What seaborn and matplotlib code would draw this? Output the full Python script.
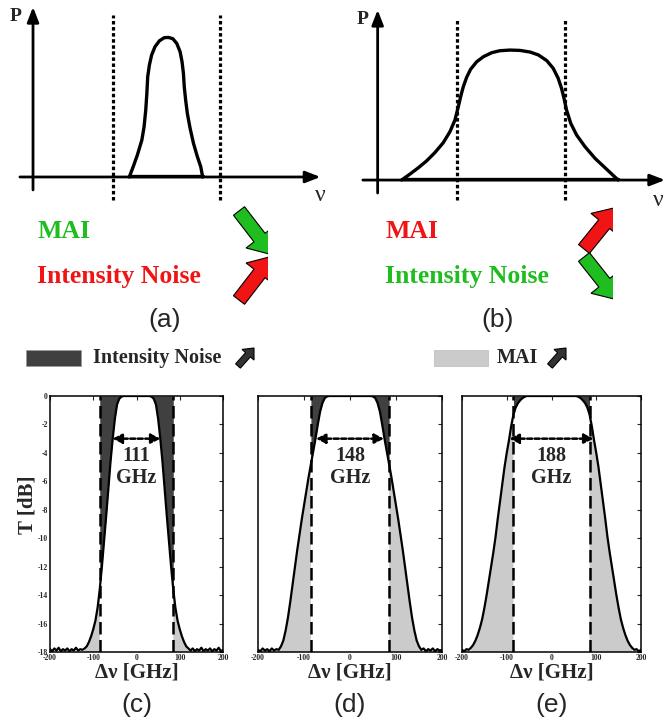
import numpy as np
import matplotlib
matplotlib.use("Agg")
import matplotlib.pyplot as plt
import matplotlib.patches as mpatches
import seaborn as sns
import pandas as pd

# ---------------- data ----------------
# (a) narrow source spectrum, arbitrary units
nu_a = [3.45, 3.60, 3.74, 3.90, 3.98, 4.04, 4.08, 4.11, 4.17, 4.25, 4.37, 4.53, 4.70, 4.85,
        5.01, 5.15, 5.27, 5.34, 5.39, 5.42, 5.47, 5.53, 5.63, 5.75, 5.89, 6.01, 6.08]
p_a = [0.0, 0.068, 0.136, 0.228, 0.31, 0.414, 0.517, 0.619, 0.691, 0.753, 0.804, 0.841, 0.86, 0.862,
       0.854, 0.825, 0.774, 0.712, 0.64, 0.557, 0.475, 0.393, 0.30, 0.208, 0.125, 0.064, 0.0]
window_a = [2.87, 6.70]

# (b) broad source spectrum, arbitrary units
nu_b = [0.86, 1.16, 1.46, 1.76, 2.05, 2.35, 2.59, 2.77, 2.89, 2.99, 3.07, 3.19, 3.33, 3.55, 3.79,
        4.09, 4.38, 4.74, 5.10, 5.46, 5.76, 6.06, 6.29, 6.47, 6.59, 6.68, 6.77, 6.92, 7.13,
        7.43, 7.79, 8.21, 8.62]
p_b = [0.0, 0.037, 0.076, 0.119, 0.169, 0.23, 0.298, 0.37, 0.452, 0.525, 0.576, 0.634, 0.683, 0.73, 0.761,
       0.786, 0.798, 0.802, 0.80, 0.79, 0.772, 0.737, 0.69, 0.628, 0.566, 0.504, 0.432, 0.35, 0.278,
       0.206, 0.134, 0.066, 0.0]
window_b = [2.85, 6.71]

# (c)-(e) filter transmission T [dB] vs detuning [GHz]
detuning = [-200, -195, -190, -185, -180, -175, -170, -165, -160, -155, -150, -145,
            -140, -135, -130, -125, -120, -115, -110, -105, -100, -95, -90, -85,
            -80, -75, -70, -65, -60, -55, -50, -45, -40, -35, -30, -25, -20, -15,
            -10, -5, 0, 5, 10, 15, 20, 25, 30, 35, 40, 45, 50, 55, 60, 65, 70, 75,
            80, 85, 90, 95, 100, 105, 110, 115, 120, 125, 130, 135, 140, 145, 150,
            155, 160, 165, 170, 175, 180, 185, 190, 195, 200]
T_c = [-17.8, -17.95, -17.75, -17.9, -17.7, -17.95, -17.8, -17.9, -17.75, -17.95, -17.8, -17.9,
       -17.7, -17.9, -17.8, -17.85, -17.75, -17.6, -17.3, -16.9, -16.4, -15.8, -14.9, -13.6,
       -12.0, -10.2, -8.4, -6.5, -4.6, -3.0, -1.6, -0.6, -0.2, -0.05, 0, 0, 0, 0,
       0, 0, 0, 0, 0, 0, 0, 0, 0, -0.05, -0.2, -0.6, -1.6, -3.0, -4.6, -6.5, -8.4, -10.2,
       -12.0, -13.6, -14.9, -15.8, -16.4, -16.9, -17.3, -17.6, -17.75, -17.9, -17.75, -17.95, -17.8, -17.9, -17.7,
       -17.95, -17.8, -17.9, -17.75, -17.95, -17.8, -17.9, -17.7, -17.95, -17.85]
T_d = [-17.85, -17.95, -17.75, -17.9, -17.8, -17.95, -17.75, -17.9, -17.8, -17.85, -17.6, -17.2,
       -16.5, -15.6, -14.5, -13.3, -12.1, -10.9, -9.8, -8.7, -7.7, -6.7, -5.7, -4.8,
       -3.9, -3.0, -2.0, -1.1, -0.5, -0.15, -0.03, 0, 0, 0, 0, 0, 0, 0,
       0, 0, 0, 0, 0, 0, 0, 0, 0, 0, 0, 0, -0.03, -0.15, -0.5, -1.1, -2.0, -3.0,
       -3.9, -4.8, -5.7, -6.7, -7.7, -8.7, -9.8, -10.9, -12.1, -13.3, -14.5, -15.6, -16.5, -17.2, -17.6,
       -17.85, -17.75, -17.95, -17.8, -17.9, -17.75, -17.95, -17.8, -17.9, -17.85]
T_e = [-17.85, -17.95, -17.8, -17.85, -17.7, -17.5, -17.2, -16.8, -16.3, -15.7, -14.9, -14.0,
       -13.0, -12.0, -11.0, -9.9, -8.6, -7.4, -6.2, -5.0, -4.0, -3.1, -2.1, -1.3,
       -0.8, -0.5, -0.3, -0.15, -0.05, 0, 0, 0, 0, 0, 0, 0, 0, 0,
       0, 0, 0, 0, 0, 0, 0, 0, 0, 0, 0, 0, 0, 0, -0.05, -0.15, -0.3, -0.5,
       -0.8, -1.3, -2.1, -3.1, -4.0, -5.0, -6.2, -7.4, -8.6, -9.9, -11.0, -12.0, -13.0, -14.0, -14.9,
       -15.7, -16.3, -16.8, -17.2, -17.5, -17.7, -17.85, -17.8, -17.95, -17.85]
bandwidths = [111, 148, 188]          # 3-dB bandwidth [GHz]
window_ghz = [-85, 85]                # receiver window [GHz]
y_ticks = [-18, -16, -14, -12, -10, -8, -6, -4, -2, 0]
x_ticks = [-200, -100, 0, 100, 200]
bottom_labels = ["(c)", "(d)", "(e)"]

# ---------------- style ----------------
sns.set_style("white")
plt.rcParams["font.family"] = ["Liberation Serif", "DejaVu Serif"]
plt.rcParams["axes.unicode_minus"] = False
SERIF = ["Liberation Serif", "DejaVu Serif"]
SANS = ["Liberation Sans", "DejaVu Sans"]
DARK = "#404040"
LIGHT = "#cbcbcb"
GREEN = "#1fbd1f"
RED = "#f01414"

W, H = 667, 721
fig = plt.figure(figsize=(W / 100, H / 100), dpi=100)


def px_axes(x0, y0, x1, y1):
    return fig.add_axes([x0 / W, 1 - y1 / H, (x1 - x0) / W, (y1 - y0) / H])


# ---------------- top sketches ----------------
def sketch(ax, nu, p, win, xlim, ylim, xarrow, yarrow, dotted_y):
    ax.set_xlim(*xlim)
    ax.set_ylim(*ylim)
    ax.axis("off")
    sns.lineplot(x=nu, y=p, ax=ax, color="black", lw=2.4, estimator=None, sort=False)
    ax.plot([nu[0], nu[-1]], [0.005, 0.005], color="black", lw=2.4, solid_capstyle="round")
    for w in win:
        ax.plot([w, w], dotted_y, color="black", lw=2.3, ls=(0, (1.1, 0.8)))
    ap = dict(arrowstyle="-|>,head_length=0.9,head_width=0.35", lw=2.0, color="black",
              shrinkA=0, shrinkB=0)
    ax.annotate("", xy=(xarrow[1], 0), xytext=(xarrow[0], 0), arrowprops=ap)
    ax.annotate("", xy=(0, yarrow[1]), xytext=(0, yarrow[0]), arrowprops=ap)


ax_a = px_axes(0, 0, 333, 205)
sketch(ax_a, nu_a, p_a, window_a, (-1.183, 10.75), (-0.173, 1.093),
       (-0.47, 10.3), (-0.08, 1.05), (-0.142, 1.0))
ax_a.text(-0.62, 0.99, "P", fontsize=14, fontweight="bold", family=SERIF, ha="center", va="center")
ax_a.text(10.3, -0.05, "ν", fontsize=17, family=SERIF, ha="center", va="top")

ax_b = px_axes(333, 0, 667, 205)
sketch(ax_b, nu_b, p_b, window_b, (-1.60, 10.37), (-0.154, 1.111),
       (-0.53, 10.3), (-0.08, 1.05), (-0.123, 1.0))
ax_b.text(-0.55, 0.99, "P", fontsize=14, fontweight="bold", family=SERIF, ha="center", va="center")
ax_b.text(10.05, -0.06, "ν", fontsize=17, family=SERIF, ha="center", va="top")

# ---------------- bottom filter panels ----------------
boxes = [(50, 396, 223, 652), (258, 396, 442, 652), (462, 396, 641, 652)]
curves = [T_c, T_d, T_e]
x = np.array(detuning, dtype=float)
for i, (box, T, bw) in enumerate(zip(boxes, curves, bandwidths)):
    ax = px_axes(*box)
    y = np.array(T, dtype=float)
    inside = (x >= window_ghz[0]) & (x <= window_ghz[1])
    outside = (x <= window_ghz[0]) | (x >= window_ghz[1])
    raised = y > -17.7
    raised = raised | np.roll(raised, 1) | np.roll(raised, -1)
    ax.fill_between(x, y, 0, where=inside, color=DARK, lw=0, zorder=1)
    ax.fill_between(x, -18, y, where=outside & raised, color=LIGHT, lw=0, zorder=1)
    df = pd.DataFrame({"detuning": x, "T": y})
    sns.lineplot(data=df, x="detuning", y="T", ax=ax, color="black", lw=1.6,
                 estimator=None, sort=False, zorder=3)
    for w in window_ghz:
        ax.axvline(w, color="black", lw=1.8, ls=(0, (5, 2.2)), zorder=4)
    ax.annotate("", xy=(bw / 2, -3), xytext=(-bw / 2, -3),
                arrowprops=dict(arrowstyle="<|-|>,head_length=0.55,head_width=0.28",
                                lw=1.8, ls=(0, (2, 1)), color="black",
                                shrinkA=0, shrinkB=0), zorder=5)
    ax.text(0, -5.0, f"{bw}\nGHz", ha="center", va="center", fontsize=14.5,
            fontweight="bold", family=SERIF, linespacing=1.1, zorder=5)
    ax.set_xlim(-200, 200)
    ax.set_ylim(-18, 0)
    ax.set_xticks(x_ticks)
    ax.set_yticks(y_ticks)
    ax.tick_params(direction="in", top=True, right=True, length=3, width=0.8,
                   labelsize=5.5, pad=1.5)
    for lab in ax.get_xticklabels() + ax.get_yticklabels():
        lab.set_fontweight("bold")
        lab.set_family(SERIF)
    if i > 0:
        ax.set_yticklabels([])
    ax.set_xlabel("")
    ax.set_ylabel("")
    for s in ax.spines.values():
        s.set_linewidth(1.1)
        s.set_color("black")
    ax.text(0.5, -(663 - 652) / 256, "Δν [GHz]", transform=ax.transAxes, ha="center", va="top",
            fontsize=15, fontweight="bold", family=SERIF)
    if i == 0:
        ax.text(-0.13, 0.575, "T [dB]", transform=ax.transAxes, ha="center", va="center",
                rotation=90, fontsize=15, fontweight="bold", family=SERIF)

# ---------------- overlay: annotations ----------------
ov = fig.add_axes([0, 0, 1, 1], zorder=10)
ov.set_xlim(0, W)
ov.set_ylim(H, 0)
ov.axis("off")
ov.patch.set_alpha(0)


def block_arrow(tail, tip, shaft_hw, head_hw, head_len, color, clip_x=None):
    tail = np.array(tail, float)
    tip = np.array(tip, float)
    d = tip - tail
    u = d / np.hypot(*d)
    n = np.array([-u[1], u[0]])
    base = tip - u * head_len
    pts = [tail + n * shaft_hw, base + n * shaft_hw, base + n * head_hw, tip,
           base - n * head_hw, base - n * shaft_hw, tail - n * shaft_hw]
    poly = mpatches.Polygon(pts, closed=True, facecolor=color, edgecolor="black", lw=0.8)
    ov.add_patch(poly)
    if clip_x is not None:
        rect = mpatches.Rectangle((0, 0), clip_x, H, transform=ov.transData)
        poly.set_clip_path(rect)


txt = dict(fontsize=18.5, fontweight="bold", family=SERIF, va="center", ha="left")
ov.text(37, 232, "MAI", color=GREEN, **txt)
ov.text(37, 276, "Intensity Noise", color=RED, **txt)
ov.text(385, 232, "MAI", color=RED, **txt)
ov.text(385, 276, "Intensity Noise", color=GREEN, **txt)
block_arrow((239, 211), (273, 255), 7, 17, 22, GREEN, clip_x=268)
block_arrow((239, 300), (273, 256), 7, 17, 22, RED, clip_x=268)
block_arrow((584, 249), (618, 207), 7, 17, 22, RED, clip_x=613)
block_arrow((584, 257), (618, 300), 7, 17, 22, GREEN, clip_x=613)

sans = dict(fontsize=19, family=SANS, ha="center", va="center")
ov.text(165, 320, "(a)", **sans)
ov.text(498, 320, "(b)", **sans)
ov.text(137, 705, bottom_labels[0], **sans)
ov.text(350, 705, bottom_labels[1], **sans)
ov.text(552, 705, bottom_labels[2], **sans)

# legend row
ov.add_patch(mpatches.Rectangle((26, 350), 55, 16, facecolor=DARK, edgecolor="#999999", lw=0.5))
ov.text(93, 358, "Intensity Noise", fontsize=14.5, fontweight="bold", family=SERIF,
        ha="left", va="center")
block_arrow((238, 366), (254, 348), 3.2, 8, 9, "#333333")
ov.add_patch(mpatches.Rectangle((434, 350), 54, 16, facecolor=LIGHT, edgecolor="#bbbbbb", lw=0.5))
ov.text(497, 358, "MAI", fontsize=14.5, fontweight="bold", family=SERIF, ha="left", va="center")
block_arrow((550, 366), (566, 348), 3.2, 8, 9, "#333333")

fig.savefig("out.png", dpi=100)
